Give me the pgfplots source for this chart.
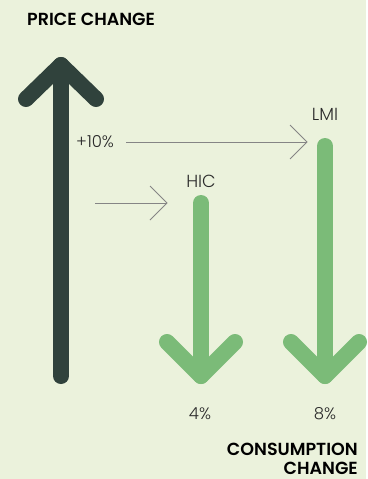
\documentclass[border=0pt]{standalone}
\usepackage{pgfplots}
\pgfplotsset{compat=1.18}
\usepackage{fontspec}
\setmainfont{Poppins}[UprightFont={* Light}, BoldFont={* SemiBold}]
\definecolor{bg}{HTML}{EBF2DC}
\definecolor{dark}{HTML}{30423C}
\definecolor{grn}{HTML}{7BBB78}
\definecolor{gry}{HTML}{858585}
\definecolor{txt}{HTML}{2A2A2A}
\begin{document}
\begin{tikzpicture}
\begin{axis}[scale only axis, width=366pt, height=479pt,
  xmin=0, xmax=366, ymin=0, ymax=479, y dir=reverse,
  hide axis, clip=false]
\fill[bg] (axis cs:0,0) rectangle (axis cs:366,479);
% price change arrow (up)
\addplot[dark, line width=16pt, line cap=round, line join=round] coordinates {(61,376) (61,65)};
\addplot[dark, line width=16pt, line cap=round, line join=round] coordinates {(26,99) (61,65) (96,99)};
% HIC consumption arrow (down)
\addplot[grn, line width=16pt, line cap=round, line join=round] coordinates {(201,203) (201,376)};
\addplot[grn, line width=16pt, line cap=round, line join=round] coordinates {(167,342) (201,376) (235,342)};
% LMI consumption arrow (down)
\addplot[grn, line width=16pt, line cap=round, line join=round] coordinates {(325,146) (325,376)};
\addplot[grn, line width=16pt, line cap=round, line join=round] coordinates {(291,342) (325,376) (359,342)};
% pointer arrows
\addplot[gry, line width=1pt] coordinates {(126,142) (307,142)};
\addplot[gry, line width=1pt] coordinates {(290,125) (307,142) (290,159)};
\addplot[gry, line width=1pt] coordinates {(95,203) (167,203)};
\addplot[gry, line width=1pt] coordinates {(150,186) (167,203) (150,220)};
% labels
\node[anchor=base west, inner sep=0, text=black, font=\bfseries\fontsize{17.5}{21}\selectfont] at (axis cs:27,25) {PRICE CHANGE};
\node[anchor=base, inner sep=0, text=txt, font=\fontsize{17.5}{21}\selectfont] at (axis cs:325,120) {LMI};
\node[anchor=base, inner sep=0, text=txt, font=\fontsize{17.5}{21}\selectfont] at (axis cs:201,187) {HIC};
\node[anchor=base west, inner sep=0, text=txt, font=\fontsize{16.5}{20}\selectfont] at (axis cs:76,147) {+10\%};
\node[anchor=base, inner sep=0, text=txt, font=\fontsize{16.5}{20}\selectfont] at (axis cs:200,419) {4\%};
\node[anchor=base, inner sep=0, text=txt, font=\fontsize{16.5}{20}\selectfont] at (axis cs:325,419) {8\%};
\node[anchor=base east, inner sep=0, text=black, font=\bfseries\fontsize{17.5}{21}\selectfont] at (axis cs:358,455) {CONSUMPTION};
\node[anchor=base east, inner sep=0, text=black, font=\bfseries\fontsize{17.5}{21}\selectfont] at (axis cs:358,474) {CHANGE};
\end{axis}
\end{tikzpicture}
\end{document}
